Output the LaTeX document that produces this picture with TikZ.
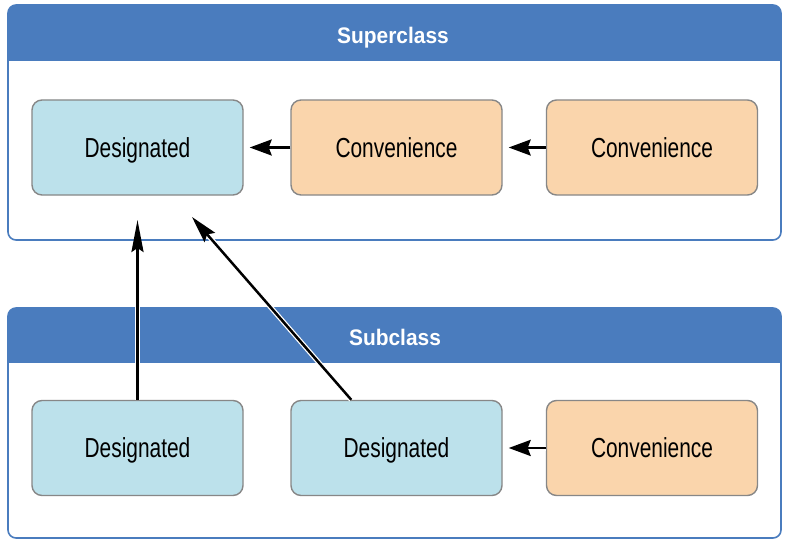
\documentclass[tikz,border=0pt]{standalone}
\usepackage{fontspec}
\setmainfont{Liberation Sans}
\newfontfamily\boxfont[FakeStretch=0.76]{Liberation Sans}
\newfontfamily\hdrfont[FakeStretch=0.93]{Liberation Sans}
\usetikzlibrary{arrows.meta}
\definecolor{hdrblue}{RGB}{74,124,190}
\definecolor{desblue}{RGB}{188,225,235}
\definecolor{convorange}{RGB}{250,213,172}
\definecolor{boxgray}{RGB}{135,135,135}
\begin{document}
\begin{tikzpicture}[x=1pt,y=-1pt, line join=round,
	initbox/.style={draw=boxgray,line width=1.4pt,rounded corners=10pt,minimum width=211pt,minimum height=95pt,inner sep=0pt,
		text height=19.5pt,text depth=0pt,font=\boxfont\fontsize{27.5}{30}\selectfont,text=black},
	des/.style={initbox,fill=desblue},
	conv/.style={initbox,fill=convorange},
	hdr/.style={text=white,text height=16pt,text depth=0pt,inner sep=0pt,font=\hdrfont\bfseries\fontsize{22.5}{25}\selectfont},
	arr/.style={line width=2.5pt,black,preaction={draw=white,line width=5pt,-}},
	harr/.style={arr,-{Stealth[length=22pt,width=16pt,inset=3pt]},shorten >=6pt},
	varr/.style={arr,-{Stealth[length=32pt,width=12pt,inset=4pt]}},
	darr/.style={arr,-{Stealth[length=27pt,width=14pt,inset=4pt]}}]
	\useasboundingbox (0,0) rectangle (786,540);
	% panels
	\foreach \top/\bot/\hb in {5/240/61,308/538/363}{
		\begin{scope}
			\clip[rounded corners=8pt] (8,\top) rectangle (781,\bot);
			\fill[white] (8,\top) rectangle (781,\bot);
			\fill[hdrblue] (8,\top) rectangle (781,\hb);
		\end{scope}
		\draw[hdrblue,line width=1.6pt,rounded corners=8pt] (8,\top) rectangle (781,\bot);
	}
	\node[hdr] (supt) at (393,35.5) {Superclass};
	\node[hdr] (subt) at (395,337.5) {Subclass};
	% superclass initializers
	\node[des] (supd) at (137.5,147.5) {Designated};
	\node[conv] (supca) at (396.5,147.5) {Convenience};
	\node[conv] (supcb) at (652,147.5) {Convenience};
	% subclass initializers
	\node[des] (subda) at (137.5,448) {Designated};
	\node[des] (subdb) at (396.5,448) {Designated};
	\node[conv] (subc) at (652,448) {Convenience};
	\path (137.5,220)coordinate (ta)
	(192,217)coordinate (tb)
	([xshift=61pt]subdb.north west)coordinate (sb);
	\draw[harr] (supca) -- (supd);
	\draw[harr] (supcb) -- (supca);
	\draw[harr] (subc) -- (subdb);
	\draw[varr] (subda.north) -- (ta);
	\draw[darr] (sb) -- (tb);
\end{tikzpicture}
\end{document}
